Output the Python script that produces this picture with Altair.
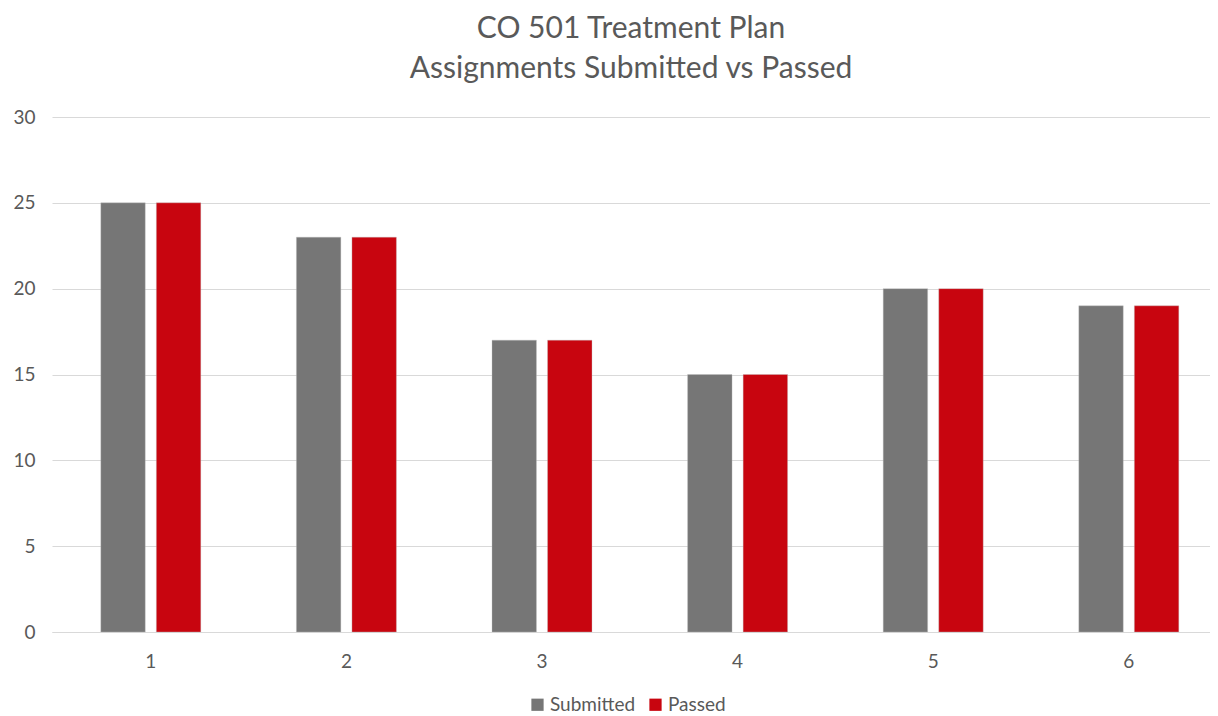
import altair as alt
import pandas as pd

assignments = ["1", "2", "3", "4", "5", "6"]
submitted = [25, 23, 17, 15, 20, 19]
passed = [25, 23, 17, 15, 20, 19]
series = ["Submitted", "Passed"]
colors = ["#767676", "#C8050F"]

rows = []
for a, s, p in zip(assignments, submitted, passed):
    rows.append({"Assignment": a, "Series": "Submitted", "Value": s})
    rows.append({"Assignment": a, "Series": "Passed", "Value": p})
df = pd.DataFrame(rows)

FONT = "Lato"
TXT = "#595959"

chart = alt.Chart(df).mark_bar(stroke="#bfbfbf", strokeWidth=0.6, strokeOpacity=0.6).encode(
    x=alt.X("Assignment:N", sort=assignments, title=None,
            scale=alt.Scale(paddingInner=0.4888, paddingOuter=0.2045, align=0.61),
            axis=alt.Axis(labelAngle=0, ticks=False, domain=True, domainColor="#d9d9d9",
                          labelPadding=20, labelFontSize=19, labelColor=TXT, labelFont=FONT)),
    xOffset=alt.XOffset("Series:N", sort=series, scale=alt.Scale(paddingInner=0.2)),
    y=alt.Y("Value:Q", title=None,
            scale=alt.Scale(domain=[0, 30]),
            axis=alt.Axis(values=[0, 5, 10, 15, 20, 25, 30], ticks=False, domain=False,
                          gridColor="#d9d9d9", labelPadding=17, labelFontSize=19,
                          labelColor=TXT, labelFont=FONT)),
    color=alt.Color("Series:N", sort=series,
                    scale=alt.Scale(domain=series, range=colors),
                    legend=alt.Legend(orient="none", legendX=476, legendY=578,
                                      direction="horizontal", title=None, symbolType="square",
                                      symbolSize=150, symbolStrokeWidth=0, labelFontSize=19,
                                      labelColor=TXT, labelFont=FONT, columnPadding=10,
                                      labelOffset=3)),
).properties(
    width=1158,
    height=515,
    title=alt.Title(["CO 501 Treatment Plan", "Assignments Submitted vs Passed"],
                    fontSize=30, font=FONT, fontWeight="normal", color=TXT,
                    lineHeight=40, offset=24),
    padding={"left": 4, "top": 6, "right": 0, "bottom": 0},
).configure_view(stroke=None)

chart.save("out.html", embed_options={"renderer": "svg", "actions": False})
